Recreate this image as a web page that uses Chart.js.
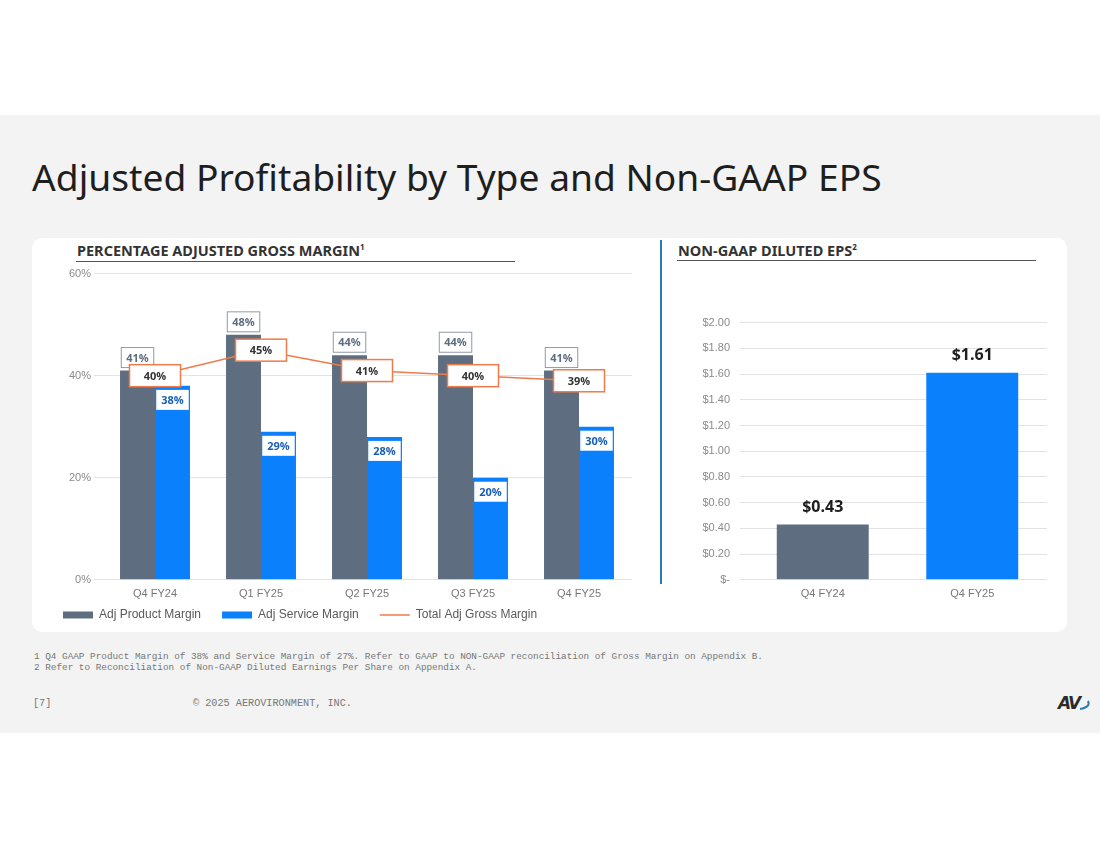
<!DOCTYPE html>
<html>
<head>
<meta charset="utf-8">
<script src="https://cdn.jsdelivr.net/npm/chart.js@4.4.1/dist/chart.umd.min.js"></script>
<style>
  body { margin: 0; width: 1100px; height: 849px; background: #fff; position: relative; overflow: hidden; font-family: "Noto Sans", sans-serif; }
  .band { position: absolute; left: 0; top: 115px; width: 1100px; height: 618px; background: #f2f3f2; }
  .title { position: absolute; left: 32px; top: 151px; font-size: 37.2px; color: #1e1e1e; white-space: nowrap; }
  .card { position: absolute; left: 32px; top: 238px; width: 1035px; height: 394px; background: #fff; border-radius: 10px; }
  .divider { position: absolute; left: 660px; top: 240px; width: 2px; height: 344px; background: #2a7ab8; }
  .sub { position: absolute; font-weight: bold; font-size: 14.5px; color: #333; white-space: nowrap; }
  .sub sup { font-size: 8px; }
  .rule { position: absolute; height: 1px; background: #555; }
  .note { position: absolute; left: 34px; font-family: "Liberation Mono", monospace; font-size: 9.35px; color: #777; white-space: pre; }
  .foot { position: absolute; top: 698px; font-family: "Liberation Mono", monospace; font-size: 10.2px; color: #777; white-space: pre; }
  canvas { position: absolute; }
  .logo { position: absolute; left: 1058px; top: 693px; font-family: "DejaVu Sans"; font-style: italic; font-weight: bold; font-size: 17px; color: #2b2b2b; letter-spacing: -2px; }
</style>
</head>
<body>
<div class="band"></div>
<div class="title">Adjusted Profitability by Type and Non-GAAP EPS</div>
<div class="card"></div>
<div class="divider"></div>
<div class="sub" style="left:77px; top:240px;">PERCENTAGE ADJUSTED GROSS MARGIN<sup>1</sup></div>
<div class="rule" style="left:76px; top:261px; width:439px;"></div>
<div class="sub" style="left:678px; top:240px;">NON-GAAP DILUTED EPS<sup>2</sup></div>
<div class="rule" style="left:677px; top:260px; width:359px;"></div>
<div style="position:absolute; left:42px; top:264px; width:608px; height:367px;"><canvas id="marginChart"></canvas></div>
<div style="position:absolute; left:680px; top:306px; width:380px; height:295px;"><canvas id="epsChart"></canvas></div>
<div class="note" style="top:651px;">1 Q4 GAAP Product Margin of 38% and Service Margin of 27%. Refer to GAAP to NON-GAAP reconciliation of Gross Margin on Appendix B.</div>
<div class="note" style="top:662px;">2 Refer to Reconciliation of Non-GAAP Diluted Earnings Per Share on Appendix A.</div>
<div class="foot" style="left:33px;">[7]</div>
<div class="foot" style="left:193px;">© 2025 AEROVIRONMENT, INC.</div>
<div class="logo">AV<svg width="14" height="14" style="vertical-align:-2px"><path d="M1 12 Q 12 10 9 4" stroke="#2a7ab8" stroke-width="2" fill="none"/></svg></div>

<script>
const quarters = ['Q4 FY24', 'Q1 FY25', 'Q2 FY25', 'Q3 FY25', 'Q4 FY25'];
const productMargin = [41, 48, 44, 44, 41];
const serviceMargin = [38, 29, 28, 20, 30];
const totalMargin = [40, 45, 41, 40, 39];

const epsQuarters = ['Q4 FY24', 'Q4 FY25'];
const epsValues = [0.43, 1.61];

const greyBar = '#5e6e80';
const blueBar = '#0a80fd';
const orange = '#ee7c4a';

// caixa com texto centrada em (x, y)
function drawBox(ctx, text, x, y, opts) {
    ctx.save();
    ctx.font = opts.font;
    const w = opts.width || ctx.measureText(text).width + 10;
    const h = opts.height || 20;
    ctx.fillStyle = '#fff';
    ctx.fillRect(x - w / 2, y - h / 2, w, h);
    if (opts.border) {
        ctx.strokeStyle = opts.border;
        ctx.lineWidth = opts.borderWidth || 1;
        ctx.strokeRect(x - w / 2, y - h / 2, w, h);
    }
    ctx.fillStyle = opts.color;
    ctx.textAlign = 'center';
    ctx.textBaseline = 'middle';
    ctx.fillText(text, x, y + 1);
    ctx.restore();
}

const marginLabels = {
    id: 'marginLabels',
    afterDatasetsDraw(chart) {
        const ctx = chart.ctx;
        const font = 'bold 11px "Open Sans", sans-serif';
        chart.getDatasetMeta(0).data.forEach((bar, i) => {
            drawBox(ctx, productMargin[i] + '%', bar.x, bar.y - 13, { font: font, color: '#5e6e80', border: '#8f9aa6', height: 20 });
        });
        chart.getDatasetMeta(1).data.forEach((bar, i) => {
            drawBox(ctx, serviceMargin[i] + '%', bar.x, bar.y + 14, { font: font, color: '#1a5fb4', height: 20 });
        });
        chart.getDatasetMeta(2).data.forEach((pt, i) => {
            drawBox(ctx, totalMargin[i] + '%', pt.x, pt.y, { font: font, color: '#333', border: orange, borderWidth: 1.5, width: 51, height: 22 });
        });
    }
};

// legenda mais perto do eixo x
const legendGap = {
    id: 'legendGap',
    beforeInit(chart) {
        const fit = chart.legend.fit;
        chart.legend.fit = function () {
            fit.call(this);
            this.height -= 13;
        };
    },
    afterLayout(chart) {
        chart.legend.top -= 13;
    }
};

const epsLabels = {
    id: 'epsLabels',
    afterDatasetsDraw(chart) {
        const ctx = chart.ctx;
        ctx.save();
        ctx.font = 'bold 16px "Open Sans", sans-serif';
        ctx.fillStyle = '#1e1e1e';
        ctx.textAlign = 'center';
        ctx.textBaseline = 'bottom';
        chart.getDatasetMeta(0).data.forEach((bar, i) => {
            ctx.fillText('$' + epsValues[i].toFixed(2), bar.x, bar.y - 9);
        });
        ctx.restore();
    }
};

Chart.defaults.font.family = '"Liberation Sans", Arial, sans-serif';
Chart.defaults.animation = false;

new Chart(document.getElementById('marginChart'), {
    type: 'bar',
    data: {
        labels: quarters,
        datasets: [
            { label: 'Adj Product Margin', data: productMargin, backgroundColor: greyBar, order: 2, pointStyle: 'rect',
              categoryPercentage: 0.66, barPercentage: 1.0 },
            { label: 'Adj Service Margin', data: serviceMargin, backgroundColor: blueBar, order: 2, pointStyle: 'rect',
              categoryPercentage: 0.66, barPercentage: 1.0 },
            { label: 'Total Adj Gross Margin', type: 'line', data: totalMargin, borderColor: orange, backgroundColor: orange,
              borderWidth: 1.5, pointRadius: 0, order: 0, pointStyle: 'line' }
        ]
    },
    options: {
        responsive: true,
        maintainAspectRatio: false,
        layout: { padding: { top: 4, right: 18, left: 0, bottom: 0 } },
        scales: {
            x: {
                grid: { display: false },
                border: { display: false },
                ticks: { color: '#777', font: { size: 11 }, padding: 0 }
            },
            y: {
                min: 0, max: 60,
                ticks: { stepSize: 20, color: '#8a8a8a', font: { size: 11 }, callback: v => v + '%' },
                grid: { color: '#e3e3e3' },
                border: { display: false },
                afterFit: (scale) => { scale.width = 60; }
            }
        },
        plugins: {
            tooltip: { enabled: false },
            legend: {
                position: 'bottom',
                align: 'start',
                labels: {
                    usePointStyle: true,
                    pointStyleWidth: 30,
                    boxHeight: 7,
                    color: '#595959',
                    font: { size: 12 },
                    padding: 21,
                    sort: (a, b) => a.datasetIndex - b.datasetIndex
                }
            }
        }
    },
    plugins: [marginLabels, legendGap]
});

new Chart(document.getElementById('epsChart'), {
    type: 'bar',
    data: {
        labels: epsQuarters,
        datasets: [
            { label: 'Non-GAAP Diluted EPS', data: epsValues, backgroundColor: [greyBar, blueBar],
              categoryPercentage: 0.615, barPercentage: 1.0 }
        ]
    },
    options: {
        responsive: true,
        maintainAspectRatio: false,
        layout: { padding: { top: 10, right: 13 } },
        scales: {
            x: {
                grid: { display: false },
                border: { display: false },
                ticks: { color: '#777', font: { size: 11 }, padding: 0 }
            },
            y: {
                min: 0, max: 2,
                ticks: { stepSize: 0.2, color: '#8a8a8a', font: { size: 11 }, padding: 10,
                         callback: v => v === 0 ? '$-' : '$' + v.toFixed(2) },
                grid: { color: '#e3e3e3' },
                border: { display: false },
                afterFit: (scale) => { scale.width = 68; }
            }
        },
        plugins: {
            tooltip: { enabled: false },
            legend: { display: false }
        }
    },
    plugins: [epsLabels]
});
</script>
</body>
</html>
